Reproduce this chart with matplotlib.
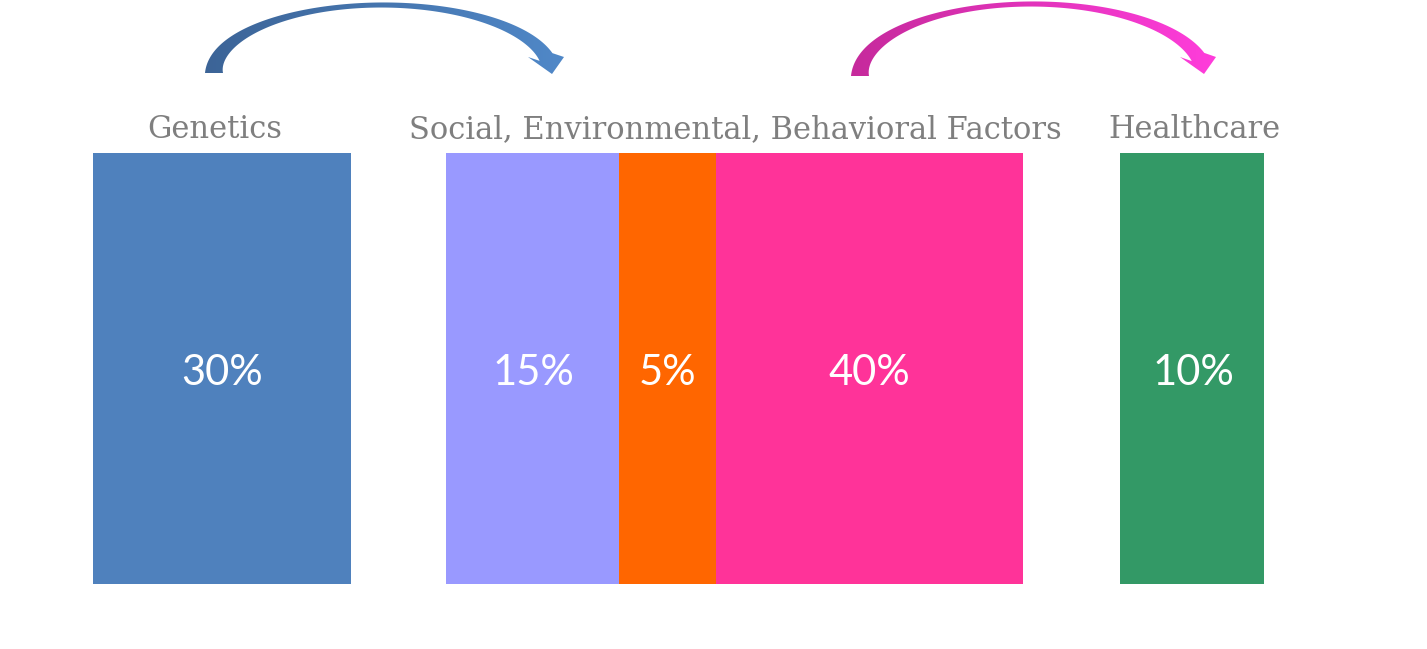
import matplotlib.pyplot as plt
import numpy as np
from matplotlib.patches import Polygon

# data
groups = ["Genetics", "Social, Environmental, Behavioral Factors", "Healthcare"]
seg_values = [30, 15, 5, 40, 10]
seg_group = [0, 1, 1, 1, 2]
seg_colors = ["#4f81bd", "#9999ff", "#ff6600", "#ff3399", "#339966"]

# layout in pixels (figure is 1427x649)
seg_left = [93, 446, 619, 716, 1120]
seg_width = [258, 173, 97, 307, 144]
bar_top, bar_bottom = 153, 584
label_x = [215, 735, 1194]
label_y = 129
pct_x = [222, 533, 667, 869, 1193]
pct_y = 373

fig = plt.figure(figsize=(14.27, 6.49), dpi=100)
ax = fig.add_axes([0, 0, 1, 1])
ax.set_xlim(0, 1427)
ax.set_ylim(649, 0)
ax.axis("off")

# bars
ax.bar(seg_left, [bar_bottom - bar_top] * len(seg_values), width=seg_width,
       bottom=bar_top, align="edge", color=seg_colors, linewidth=0)

for i, v in enumerate(seg_values):
    ax.text(pct_x[i], pct_y, f"{v}%", color="white", fontsize=30,
            family="Lato", ha="center", va="center")

for i, g in enumerate(groups):
    ax.text(label_x[i], label_y + 1, g, color="#7f7f7f", fontsize=22,
            family="DejaVu Serif", ha="center", va="center")


def curved_arrow(x0, y0, x1, y1, top, c0, c1):
    # centre line is a half ellipse from (x0, y0) to the head base (x1, y1)
    b = y0 - top
    t_end = np.arcsin((y0 - y1) / b)
    a = (x1 - x0) / (1 + np.cos(t_end))
    cx = x0 + a
    t = np.linspace(np.pi, t_end, 200)
    s = (np.pi - t) / (np.pi - t_end)
    th = np.where(s < 0.5, 5 + 13 * (1 - 2 * s) ** 2, 5 + 10 * (2 * s - 1) ** 2)
    xs = cx + a * np.cos(t)
    ys = y0 - b * np.sin(t)
    dx = -a * np.sin(t)
    dy = -b * np.cos(t)
    n = np.hypot(dx, dy)
    nx, ny = -dy / n, dx / n
    side1 = np.column_stack([xs - nx * th / 2, ys - ny * th / 2])
    side2 = np.column_stack([xs + nx * th / 2, ys + ny * th / 2])
    head = np.array([[x1 - 18, y1], [x1 + 6, y1 + 17], [x1 + 18, y1]])
    pts = np.vstack([side1, head, side2[::-1]])
    poly = Polygon(pts, closed=True, facecolor="none", edgecolor="none")
    ax.add_patch(poly)
    xmin, xmax = pts[:, 0].min(), pts[:, 0].max()
    ymin, ymax = pts[:, 1].min(), pts[:, 1].max()
    grad = np.linspace(0, 1, 256)
    rgb0 = np.array(plt.matplotlib.colors.to_rgb(c0))
    rgb1 = np.array(plt.matplotlib.colors.to_rgb(c1))
    img = rgb0[None, None, :] * (1 - grad[None, :, None]) + rgb1[None, None, :] * grad[None, :, None]
    im = ax.imshow(img, extent=[xmin, xmax, ymax, ymin], aspect="auto", zorder=3)
    im.set_clip_path(poly)


curved_arrow(214, 73, 546, 57, 5, "#3c6497", "#5088c8")
curved_arrow(860, 76, 1198, 57, 4, "#c62a9c", "#ff3ddb")

ax.set_xlim(0, 1427)
ax.set_ylim(649, 0)
fig.savefig("out.png", dpi=100)
